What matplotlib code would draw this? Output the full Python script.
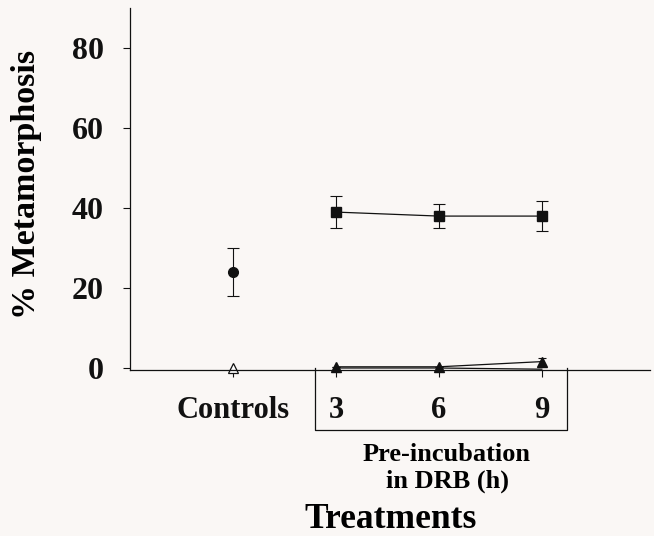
import matplotlib
matplotlib.use("Agg")
import matplotlib.pyplot as plt

plt.rcParams['font.family'] = ['Liberation Serif', 'DejaVu Serif']

categories = ["Controls", "3", "6", "9"]
ctrl_pos = [0]
drb_pos = [1, 2, 3]

# Controls
ctrl_circle = [24]
ctrl_circle_err = [6]
ctrl_open_tri = [0]

# DRB pre-incubation series
drb_square = [39, 38, 38]
drb_square_err = [4, 3, 3.7]
drb_tri = [0.3, 0.3, 1.6]
drb_tri_err = [0, 0, 0.8]
drb_line2 = [0.0, 0.0, -0.3]

ink = '#111111'
bg = '#faf7f5'

fig = plt.figure(figsize=(6.54, 5.36), dpi=100, facecolor=bg)
ax = fig.add_axes([0.1988, 0.3097, 0.795, 0.675])
ax.set_facecolor(bg)

ax.errorbar(ctrl_pos, ctrl_circle, yerr=ctrl_circle_err, fmt='o', color=ink,
            ms=7, capsize=4, elinewidth=0.8, capthick=0.8, clip_on=False)
ax.plot(ctrl_pos, ctrl_open_tri, marker='^', ls='none', mfc='white', mec=ink,
        ms=7, mew=0.9, clip_on=False)

ax.errorbar(drb_pos, drb_square, yerr=drb_square_err, fmt='-s', color=ink,
            ms=7, lw=0.9, capsize=4, elinewidth=0.8, capthick=0.8, clip_on=False)
ax.plot(drb_pos, drb_line2, '-', color=ink, lw=0.9, clip_on=False)
ax.errorbar(drb_pos, drb_tri, yerr=drb_tri_err, fmt='-^', color=ink,
            ms=7, lw=0.9, capsize=3, elinewidth=0.8, capthick=0.8, clip_on=False)

ax.set_xlim(-1.0, 4.05)
ax.set_ylim(-0.5, 90)

ax.spines['top'].set_visible(False)
ax.spines['right'].set_visible(False)
for s in ('left', 'bottom'):
    ax.spines[s].set_color(ink)
    ax.spines[s].set_linewidth(0.9)

ax.set_yticks([0, 20, 40, 60, 80])
ax.tick_params(axis='y', direction='out', length=5, width=0.8, colors=ink,
               labelsize=23, pad=14)
for lab in ax.get_yticklabels():
    lab.set_fontweight('bold')

ax.set_xticks([0, 1, 2, 3])
ax.set_xticklabels(categories)
ax.tick_params(axis='x', direction='out', length=5, width=0.8, colors=ink,
               labelsize=22, pad=14)
for lab in ax.get_xticklabels():
    lab.set_fontweight('bold')

# bracket box around DRB treatments
bx0, bx1, by = 0.796, 3.24, -15.5
ax.plot([bx0, bx0, bx1, bx1], [0, by, by, 0], color=ink, lw=0.9, clip_on=False)

ax.set_ylabel('% Metamorphosis', fontsize=24.5, fontweight='bold')
ax.yaxis.set_label_coords(-0.17, 0.514)

fig.text(447 / 654, 1 - 468 / 536, 'Pre-incubation\nin DRB (h)', ha='center',
         va='center', fontsize=19, fontweight='bold', linespacing=1.2)
fig.text(391 / 654, 1 - 520 / 536, 'Treatments', ha='center', va='center',
         fontsize=25.5, fontweight='bold')

fig.savefig('out.png', dpi=100, facecolor=bg)
